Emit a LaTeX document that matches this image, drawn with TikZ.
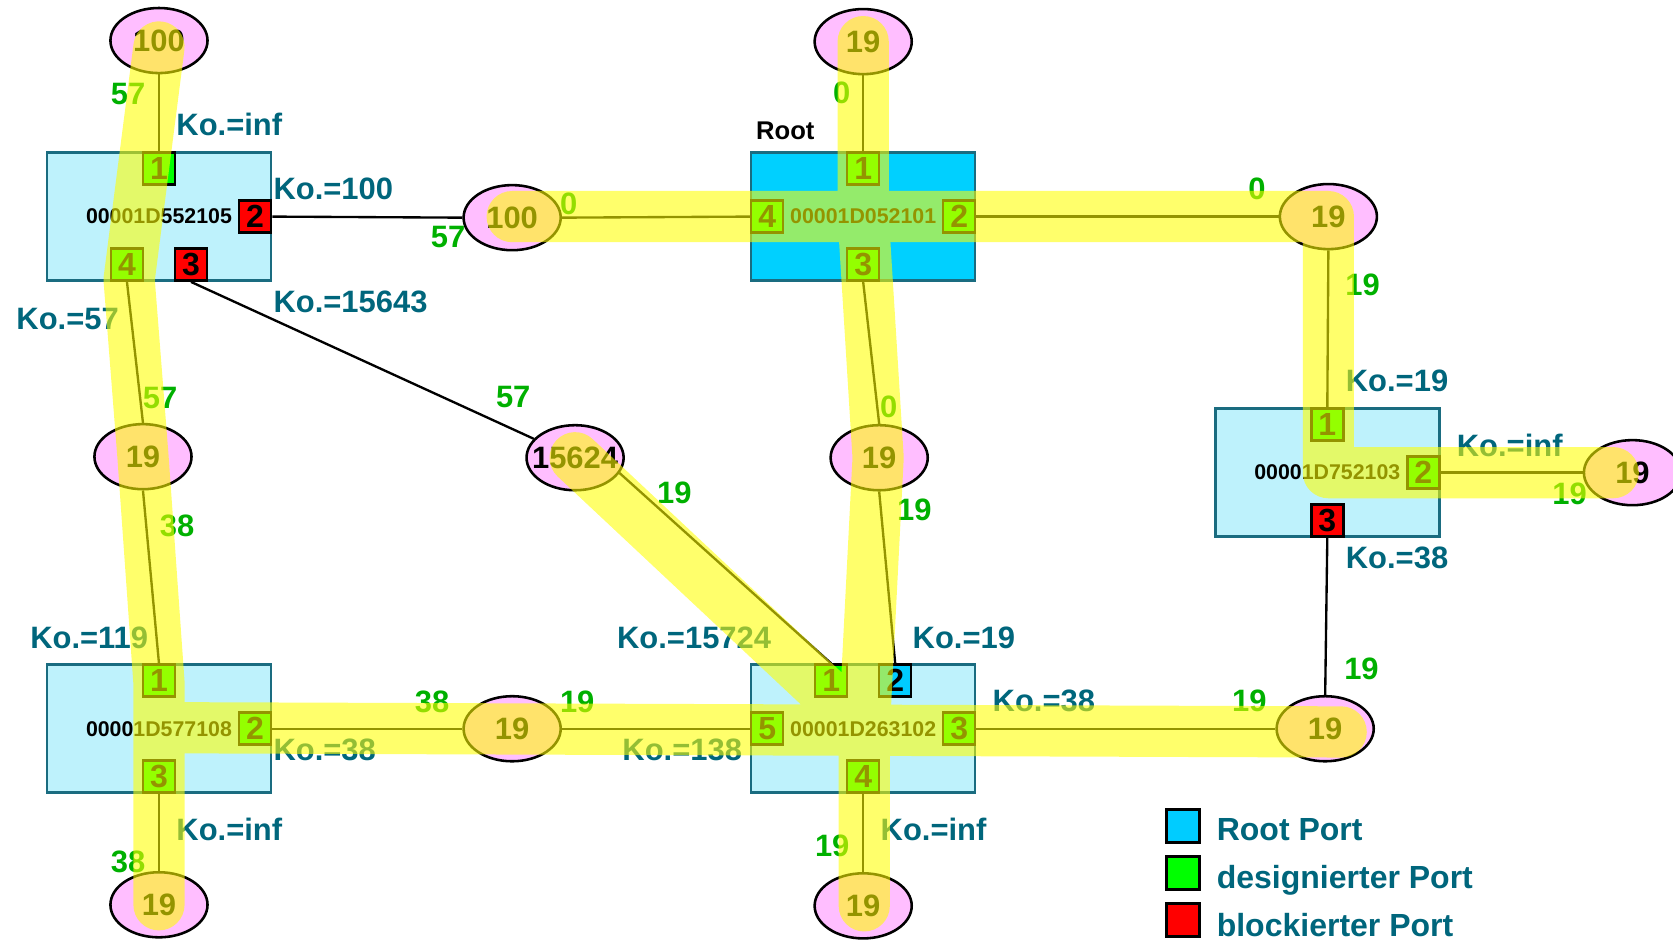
\documentclass[tikz,border=0pt]{standalone}
\usepackage{fontspec}
\setmainfont{Liberation Sans}
\usetikzlibrary{shapes.geometric}
\definecolor{tealtxt}{RGB}{0,102,124}
\definecolor{numgreen}{RGB}{0,176,0}
\definecolor{swfill}{RGB}{190,242,252}
\definecolor{rootfill}{RGB}{0,208,255}
\definecolor{swborder}{RGB}{26,108,128}
\definecolor{pinkfill}{RGB}{255,190,255}
\definecolor{pgreen}{RGB}{0,255,0}
\definecolor{pred}{RGB}{255,0,0}
\definecolor{pcyan}{RGB}{0,204,255}
\definecolor{bandyellow}{RGB}{255,255,0}
\begin{document}
\begin{tikzpicture}[x=0.5pt,y=-0.5pt,
 sw/.style={draw=swborder,line width=1.2pt,fill=swfill,minimum width=105pt,minimum height=60pt,inner sep=0pt,font=\fontsize{10}{12}\selectfont\bfseries},
 rootsw/.style={sw,fill=rootfill},
 port/.style={draw=black,line width=1.2pt,minimum size=15pt,inner sep=0pt,font=\fontsize{15}{17}\selectfont\bfseries},
 gport/.style={port,fill=pgreen},
 rport/.style={port,fill=pred},
 cport/.style={port,fill=pcyan},
 seg/.style={ellipse,draw=black,line width=1.2pt,fill=pinkfill,minimum width=45.5pt,minimum height=30.5pt,inner sep=0pt,font=\fontsize{14.5}{17}\selectfont\bfseries},
 link/.style={draw=black,line width=1.1pt},
 ko/.style={anchor=base west,inner sep=0pt,text=tealtxt,font=\fontsize{14.5}{17}\selectfont\bfseries},
 cost/.style={anchor=center,inner sep=0pt,text=numgreen,font=\fontsize{14.5}{17}\selectfont\bfseries},
 band/.style={draw=bandyellow,draw opacity=0.58,line width=24pt,line cap=round,line join=round},
 legbox/.style={draw=black,line width=1.5pt,minimum size=15.5pt,inner sep=0pt},
 legtxt/.style={anchor=base west,inner sep=0pt,text=tealtxt,font=\fontsize{15}{18}\selectfont\bfseries}
]
\useasboundingbox (0,0) rectangle (1568,882);

% switches
\node[sw] (sA) at (149,203) {00001D552105};
\node[rootsw] (sB) at (809,203) {00001D052101};
\node[sw] (sC) at (1244,443) {00001D752103};
\node[sw] (sD) at (149,683) {00001D577108};
\node[sw] (sE) at (809,683) {00001D263102};

% ports
\node[gport] (a1) at (149,158) {1};
\node[rport] (a2) at (239,203) {2};
\node[rport] (a3) at (179,248) {3};
\node[gport] (a4) at (119,248) {4};

\node[gport] (b1) at (809,158) {1};
\node[gport] (b2) at (899,203) {2};
\node[gport] (b3) at (809,248) {3};
\node[gport] (b4) at (719,203) {4};

\node[gport] (c1) at (1244,398) {1};
\node[gport] (c2) at (1334,443) {2};
\node[rport] (c3) at (1244,488) {3};

\node[gport] (d1) at (149,638) {1};
\node[gport] (d2) at (239,683) {2};
\node[gport] (d3) at (149,728) {3};

\node[gport] (f1) at (779,638) {1};
\node[cport] (f2) at (839,638) {2};
\node[gport] (f3) at (899,683) {3};
\node[gport] (f4) at (809,728) {4};
\node[gport] (f5) at (719,683) {5};

% segments
\node[seg] (e1) at (149,38) {\makebox[0pt]{100}};
\node[seg] (e2) at (480,204) {\makebox[0pt]{100}};
\node[seg] (e3) at (809,39) {\makebox[0pt]{19}};
\node[seg] (e4) at (1245,203) {\makebox[0pt]{19}};
\node[seg] (e5) at (134,428) {\makebox[0pt]{19}};
\node[seg] (e6) at (539,429) {\makebox[0pt]{15624}};
\node[seg] (e7) at (824,429) {\makebox[0pt]{19}};
\node[seg] (e8) at (1530,443) {\makebox[0pt]{19}};
\node[seg] (e9) at (480,683) {\makebox[0pt]{19}};
\node[seg] (e10) at (1242,683) {\makebox[0pt]{19}};
\node[seg] (e11) at (149,848) {\makebox[0pt]{19}};
\node[seg] (e12) at (809,849) {\makebox[0pt]{19}};

% links
\draw[link] (e1.south) -- (a1.north);
\draw[link] (a2.east) -- (e2.west);
\draw[link] (a3.south) -- (e6);
\draw[link] (a4.south) -- (e5.north);
\draw[link] (e2.east) -- (b4.west);
\draw[link] (e3.south) -- (b1.north);
\draw[link] (b2.east) -- (e4.west);
\draw[link] (b3.south) -- (e7.north);
\draw[link] (e4.south) -- (c1.north);
\draw[link] (c2.east) -- (e8.west);
\draw[link] (c3.south) -- (e10.north);
\draw[link] (e5.south) -- (d1.north);
\draw[link] (e6.-19) -- (f1.north);
\draw[link] (e7.south) -- (f2.north);
\draw[link] (d2.east) -- (e9.west);
\draw[link] (d3.south) -- (e11.north);
\draw[link] (e9.east) -- (f5.west);
\draw[link] (f3.east) -- (e10.west);
\draw[link] (f4.south) -- (e12.north);

% root label
\node[anchor=center,inner sep=0pt,font=\fontsize{12}{14}\selectfont\bfseries] (rootlbl) at (736,123) {Root};

% cost labels
\node[ko] (k1) at (165,127) {Ko.=inf};
\node[ko] (k2) at (256,187) {Ko.=100};
\node[ko] (k3) at (256,293) {Ko.=15643};
\node[ko] (k4) at (15,309) {Ko.=57};
\node[ko] (k5) at (28,608) {Ko.=119};
\node[ko] (k6) at (256,713) {Ko.=38};
\node[ko] (k7) at (165,788) {Ko.=inf};
\node[ko] (k8) at (578,608) {Ko.=15724};
\node[ko] (k9) at (855,608) {Ko.=19};
\node[ko] (k10) at (583,713) {Ko.=138};
\node[ko] (k11) at (930,667) {Ko.=38};
\node[ko] (k12) at (825,788) {Ko.=inf};
\node[ko] (k13) at (1261,367) {Ko.=19};
\node[ko] (k14) at (1365,428) {Ko.=inf};
\node[ko] (k15) at (1261,533) {Ko.=38};

% path costs
\node[cost] (g1) at (120,88) {57};
\node[cost] (g2) at (420,222) {57};
\node[cost] (g3) at (533,191) {0};
\node[cost] (g4) at (789,87) {0};
\node[cost] (g5) at (1178,177) {0};
\node[cost] (g6) at (1277,267) {19};
\node[cost] (g7) at (481,372) {57};
\node[cost] (g8) at (150,373) {57};
\node[cost] (g9) at (833,381) {0};
\node[cost] (g10) at (166,493) {38};
\node[cost] (g11) at (632,462) {19};
\node[cost] (g12) at (857,478) {19};
\node[cost] (g13) at (405,658) {38};
\node[cost] (g14) at (541,658) {19};
\node[cost] (g15) at (1171,657) {19};
\node[cost] (g16) at (1276,627) {19};
\node[cost] (g17) at (1471,463) {19};
\node[cost] (g18) at (120,808) {38};
\node[cost] (g19) at (780,793) {19};

% legend
\node[legbox,fill=pcyan] (lg1) at (1109,774) {};
\node[legbox,fill=pgreen] (lg2) at (1109,818) {};
\node[legbox,fill=pred] (lg3) at (1109,862) {};
\node[legtxt] (lt1) at (1140,788) {Root Port};
\node[legtxt] (lt2) at (1140,833) {designierter Port};
\node[legtxt] (lt3) at (1140,878) {blockierter Port};

% spanning tree highlight
\draw[band] (149,44) -- (121,262) -- (134,428) -- (149,640) -- (149,848)
  (480,203) -- (1245,203) -- (1245,443) -- (1512,443)
  (809,39) -- (809,203) -- (823,429) -- (810,683) -- (810,849)
  (539,429) -- (810,683)
  (149,682) -- (1257,686);
\end{tikzpicture}
\end{document}
